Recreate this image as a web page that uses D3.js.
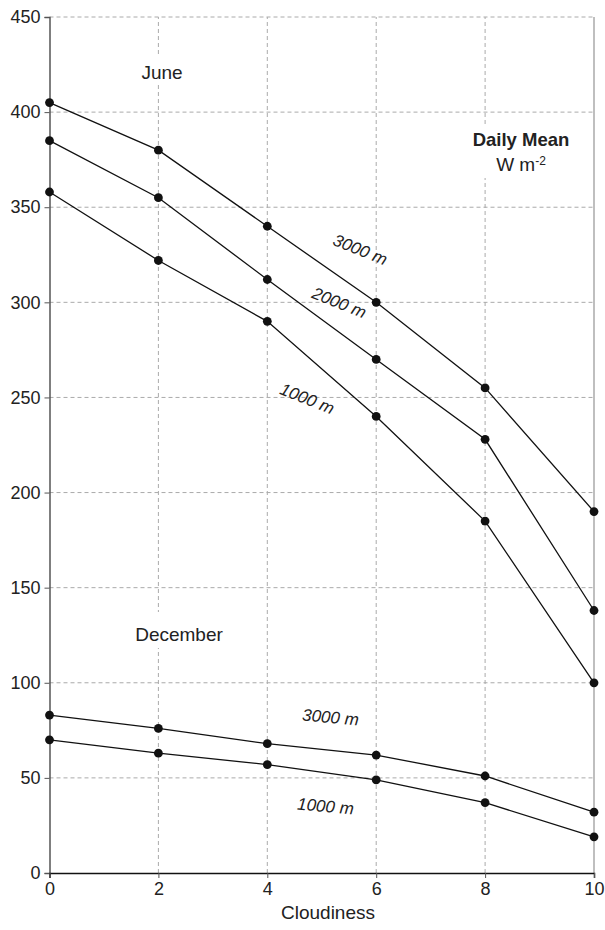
<!DOCTYPE html>
<html><head><meta charset="utf-8">
<script src="https://cdn.jsdelivr.net/npm/d3@7"></script>
<style>body{margin:0;background:#fff;} text{font-family:"Liberation Sans",Arial,sans-serif;}</style>
</head><body>
<svg id="c" width="605" height="930"></svg>
<script>
const cloudiness = [0, 2, 4, 6, 8, 10];
const june3000 = [405, 380, 340, 300, 255, 190];
const june2000 = [385, 355, 312, 270, 228, 138];
const june1000 = [358, 322, 290, 240, 185, 100];
const dec3000 = [83, 76, 68, 62, 51, 32];
const dec1000 = [70, 63, 57, 49, 37, 19];
const xTicks = [0, 2, 4, 6, 8, 10];
const yTicks = [0, 50, 100, 150, 200, 250, 300, 350, 400, 450];
const seriesList = [june3000, june2000, june1000, dec3000, dec1000];

const svg = d3.select("#c");
const x = d3.scaleLinear().domain([0, 10]).range([49.5, 594]);
const y = d3.scaleLinear().domain([0, 450]).range([873, 17]);

// grid
svg.append("g").selectAll("line").data(yTicks.filter(d => d > 0)).join("line")
  .attr("x1", x(0)).attr("x2", x(10)).attr("y1", d => y(d)).attr("y2", d => y(d))
  .attr("stroke", "#aaa").attr("stroke-width", 1).attr("stroke-dasharray", "4,3");
svg.append("g").selectAll("line").data(xTicks.filter(d => d > 0 && d < 10)).join("line")
  .attr("x1", d => x(d)).attr("x2", d => x(d)).attr("y1", y(0)).attr("y2", y(450))
  .attr("stroke", "#aaa").attr("stroke-width", 1).attr("stroke-dasharray", "4,3");
svg.append("line").attr("x1", x(10)).attr("x2", x(10)).attr("y1", y(0)).attr("y2", y(450))
  .attr("stroke", "#aaa").attr("stroke-width", 1.5);

// white backgrounds behind text blocks (interrupt grid lines as in reference)
[[136, 55, 54, 28], [128, 612, 104, 36], [466, 124, 112, 54]].forEach(r => {
  svg.append("rect").attr("x", r[0]).attr("y", r[1]).attr("width", r[2]).attr("height", r[3]).attr("fill", "#fff");
});

// axes
const yAxis = d3.axisLeft(y).tickValues(yTicks).tickSize(5).tickPadding(4);
const gy = svg.append("g").attr("transform", `translate(${x(0)},0)`).call(yAxis);
gy.select(".domain").attr("stroke", "#555").attr("stroke-width", 1.5);
gy.selectAll(".tick line").attr("stroke", "#555");
gy.selectAll(".tick text").attr("font-size", 18).attr("fill", "#222").attr("font-family", "Liberation Sans, Arial, sans-serif");

const xAxis = d3.axisBottom(x).tickValues(xTicks).tickSize(5).tickPadding(4);
const gx = svg.append("g").attr("transform", `translate(0,${y(0)})`).call(xAxis);
gx.select(".domain").attr("stroke", "#111").attr("stroke-width", 1.5);
gx.selectAll(".tick line").attr("stroke", "#555");
gx.selectAll(".tick text").attr("font-size", 18).attr("fill", "#222").attr("font-family", "Liberation Sans, Arial, sans-serif");

svg.append("text").attr("x", 328).attr("y", 919).attr("text-anchor", "middle")
  .attr("font-size", 19).attr("fill", "#222").text("Cloudiness");

// lines
const line = d3.line().x((d, i) => x(cloudiness[i])).y(d => y(d));
seriesList.forEach(s => {
  svg.append("path").attr("d", line(s)).attr("fill", "none").attr("stroke", "#111").attr("stroke-width", 1.3);
  svg.append("g").selectAll("circle").data(s).join("circle")
    .attr("cx", (d, i) => x(cloudiness[i])).attr("cy", d => y(d)).attr("r", 4.4).attr("fill", "#111");
});

// annotations
svg.append("text").attr("x", 162).attr("y", 79).attr("text-anchor", "middle").attr("font-size", 19).attr("fill", "#222").text("June");
svg.append("text").attr("x", 179).attr("y", 641).attr("text-anchor", "middle").attr("font-size", 19).attr("fill", "#222").text("December");
svg.append("text").attr("x", 521).attr("y", 146).attr("text-anchor", "middle").attr("font-size", 18.5).attr("font-weight", "bold").attr("fill", "#222").text("Daily Mean");
const wm = svg.append("text").attr("x", 521).attr("y", 171).attr("text-anchor", "middle").attr("font-size", 19).attr("fill", "#222");
wm.append("tspan").text("W m");
wm.append("tspan").attr("font-size", 12).attr("dy", -6).text("-2");

const labs = [
  {t: "3000 m", x: 358, y: 255, r: 22},
  {t: "2000 m", x: 337, y: 308, r: 22},
  {t: "1000 m", x: 305, y: 404, r: 22},
  {t: "3000 m", x: 330, y: 723, r: 5},
  {t: "1000 m", x: 325, y: 812, r: 5}
];
labs.forEach(l => {
  svg.append("text").attr("transform", `translate(${l.x},${l.y}) rotate(${l.r})`)
    .attr("text-anchor", "middle").attr("font-size", 17).attr("font-style", "italic").attr("fill", "#222").text(l.t);
});
</script>
</body></html>
